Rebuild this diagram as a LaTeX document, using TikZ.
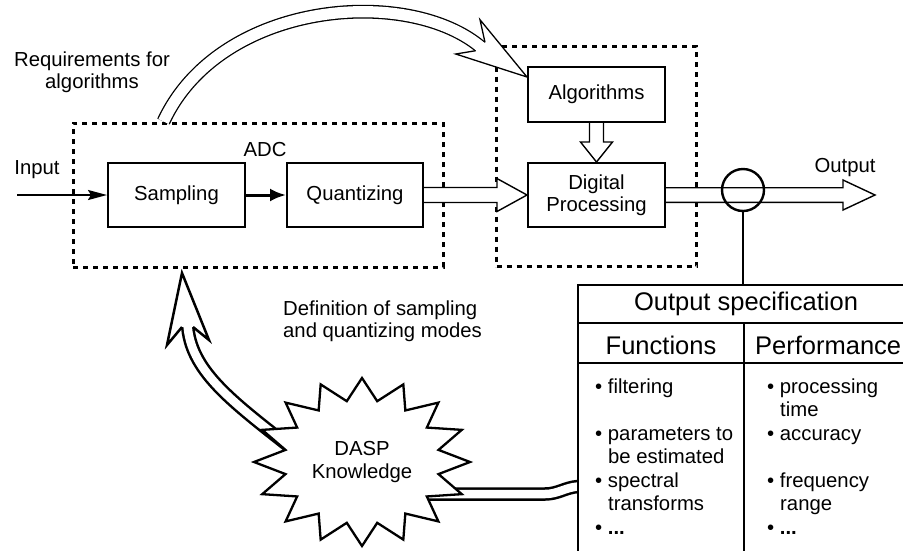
\documentclass[tikz,border=0pt]{standalone}
\usepackage{fontspec}
\setmainfont{Liberation Sans}
\usetikzlibrary{calc,arrows.meta}

\begin{document}
\begin{tikzpicture}[x=1pt,y=-1pt,
  txt/.style={font=\fontsize{20.3}{22.5}\selectfont, inner sep=0pt},
  hdr/.style={font=\fontsize{25.5}{28}\selectfont, inner sep=0pt},
  blk/.style={draw, line width=2pt, minimum width=137pt, minimum height=64pt,
    align=center, inner sep=0pt, font=\fontsize{20.3}{22.5}\selectfont},
  group/.style={draw, line width=3pt, dash pattern=on 5pt off 5pt},
  hollow/.style={draw, fill=white, line width=1.4pt, line join=miter},
  pipe/.style={double, line width=2.5pt, double distance=8.5pt},
  thinpipe/.style={double, line width=1.3pt, double distance=11.2pt},
  pipehead/.style={draw, fill=white, line width=2.5pt, line join=miter},
  thinhead/.style={draw, fill=white, line width=1.3pt, line join=miter},
  tbl/.style={line width=2.6pt},
  feed/.style={line width=2pt}
]
\useasboundingbox (0,0) rectangle (903,550);

% ---- dotted groups ----
\node[group, minimum width=370pt, minimum height=144pt] (adc) at (258,195) {};
\node[group, minimum width=200pt, minimum height=220pt] (dsp) at (596.7,156.7) {};

% ---- blocks ----
\node[blk] (samp) at (176.5,195) {Sampling};
\node[blk, minimum width=136pt] (quant) at (355,195) {Quantizing};
\node[blk, minimum height=55pt] (alg) at (596.5,94.5) {Algorithms};
\node[blk] (dp) at (596.5,195) {Digital\\Processing};

% ---- labels ----
\node[txt] (adclbl) at (265,150) {ADC};
\node[txt] (inlbl) at (37,170) {Input};
\node[txt] (outlbl) at (845,168) {Output};
\node[txt, align=center] (reqlbl) at (92,72) {Requirements for\\algorithms};
\node[txt, align=left, anchor=west] (deflbl) at (283,321) {Definition of sampling\\and quantizing modes};

% ---- solid arrows ----
\coordinate (inp) at (17,195);
\draw[line width=2pt, -{Stealth[length=19pt,width=10pt,inset=3pt]}] (inp) -- (samp.west);
\draw[line width=3pt, -{Latex[length=16pt,width=13pt]}] (samp.east) -- (quant.west);

% ---- hollow arrows ----
\draw[hollow] ($(quant.east)+(0,-7.5)$) -- ($(dp.west)+(-30,-7.5)$) -- ($(dp.west)+(-30,-16.5)$)
  -- (dp.west) -- ($(dp.west)+(-30,16.5)$) -- ($(dp.west)+(-30,7.5)$) -- ($(quant.east)+(0,7.5)$);
\draw[hollow] ($(alg.south)+(-7,0)$) -- ($(dp.north)+(-7,-20)$) -- ($(dp.north)+(-16,-20)$)
  -- (dp.north) -- ($(dp.north)+(16,-20)$) -- ($(dp.north)+(7,-20)$) -- ($(alg.south)+(7,0)$);
\coordinate (outtip) at (875,195);
\draw[hollow] ($(dp.east)+(0,-7.3)$) -- ($(outtip)+(-32,-7.3)$) -- ($(outtip)+(-32,-15)$)
  -- (outtip) -- ($(outtip)+(-32,15)$) -- ($(outtip)+(-32,7.3)$) -- ($(dp.east)+(0,7.3)$);

% ---- tap on the output ----
\node[draw, circle, line width=2.4pt, minimum size=42pt, inner sep=0pt] (tap) at (743,190) {};
\coordinate (tbltop) at (578,285);
\draw[feed] (tap.south) -- (tap.south |- tbltop);

% ---- output specification table ----
\draw[tbl] (578,560) -- (tbltop) -- (910,285);
\draw[tbl] (578,323) -- (910,323);
\draw[tbl] (578,363) -- (910,363);
\draw[tbl] (744,323) -- (744,560);
\node[hdr] (spec) at (746,304) {Output specification};
\node[hdr] (fun) at (661,345) {Functions};
\node[hdr, anchor=west] (perf) at (755,345) {Performance};

\node[txt, anchor=base west] (f1) at (595,393) {\textbullet\ filtering};
\node[txt, anchor=base west] (f2) at (595,440) {\textbullet\ parameters to};
\node[txt, anchor=base west] (f2b) at (608,463.5) {be estimated};
\node[txt, anchor=base west] (f3) at (595,487) {\textbullet\ spectral};
\node[txt, anchor=base west] (f3b) at (608,510.5) {transforms};
\node[txt, anchor=base west] (f4) at (595,534) {\textbullet\ \textbf{...}};

\node[txt, anchor=base west] (p1) at (767,393) {\textbullet\ processing};
\node[txt, anchor=base west] (p1b) at (780,416.5) {time};
\node[txt, anchor=base west] (p2) at (767,440) {\textbullet\ accuracy};
\node[txt, anchor=base west] (p3) at (767,487) {\textbullet\ frequency};
\node[txt, anchor=base west] (p3b) at (780,510.5) {range};
\node[txt, anchor=base west] (p4) at (767,534) {\textbullet\ \textbf{...}};

% ---- knowledge source ----
\coordinate (daspc) at (362,462);

% requirements arc: ADC -> Algorithms
\coordinate (tipB) at ($(alg.north west)+(0,11)$);
\draw[thinpipe] ($(adc.north west)+(92,0)$) .. controls (220,0) and (410,-15) .. ($(tipB)+(-44.5,-28.5)$);
\draw[thinhead] ($(tipB)+(-42,-34.7)$) -- ($(tipB)+(-47,-57.3)$) -- (tipB)
  -- ($(tipB)+(-71.3,-23)$) -- ($(tipB)+(-51.3,-26.3)$);

% definition arrow: knowledge -> ADC
\coordinate (tipA) at (182,273);
\draw[pipe] ($(daspc)+(-72,-15)$) .. controls (230,400) and (190,370) .. ($(tipA)+(5.5,51)$);
\draw[pipehead] ($(tipA)+(0,54)$) -- ($(tipA)+(-15,72)$) -- (tipA)
  -- ($(tipA)+(27,67)$) -- ($(tipA)+(11,54)$);

% knowledge -> specification link
\draw[pipe] ($(daspc)+(48,32)$) -- (545,494) .. controls (558,494) and (565,487.5) .. ($(tbltop)+(0,201.5)$);
\draw[tbl] (578,470) -- (578,505);

% starburst outline around the knowledge label
\draw[line width=2.3pt, fill=white, line join=miter]
  ($(daspc)+(108,0)$)
  \foreach \k in {1,...,31} {
    -- ($(daspc)+({(93+15*cos(\k*180))*cos(\k*11.25)},{(73+11*cos(\k*180))*sin(\k*11.25)})$)
  } -- cycle;
\node[txt, align=center] (dasp) at (daspc) {DASP\\Knowledge};
\end{tikzpicture}
\end{document}
